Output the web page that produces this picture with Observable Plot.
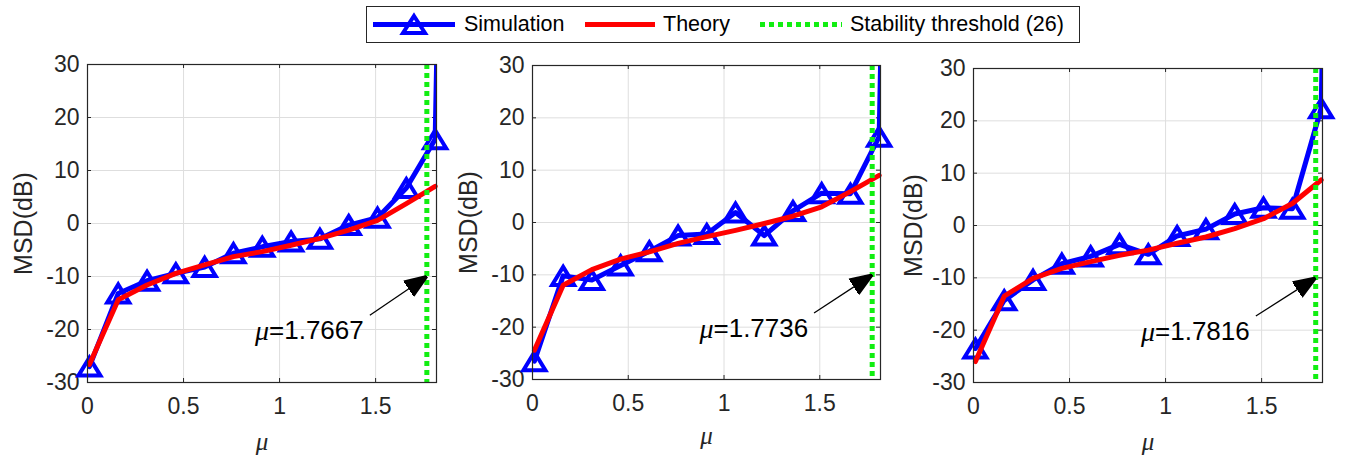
<!DOCTYPE html>
<html>
<head>
<meta charset="utf-8">
<script src="https://cdn.jsdelivr.net/npm/d3@7"></script>
<script src="https://cdn.jsdelivr.net/npm/@observablehq/plot@0.6"></script>
<style>
  html, body { margin: 0; padding: 0; background: #fff; }
  body { font-family: "Liberation Sans", Arial, Helvetica, sans-serif; }
  #root { position: relative; width: 1345px; height: 458px; overflow: hidden; background: #fff; }
  #legend { position: absolute; left: 366px; top: 6px; width: 714px; height: 37px; box-sizing: border-box;
            border: 1px solid #262626; background: #fff; }
  #legend .sw { position: absolute; top: 0; }
  #legend .lt { position: absolute; top: 0; height: 35px; line-height: 35px; font-size: 21.5px; color: #000; white-space: nowrap; }
  .panel { position: absolute; top: 50px; }
</style>
</head>
<body>
<div id="root">
  <div id="legend"></div>
</div>
<script>
// ---------- data ----------
const mu = [0.01, 0.16, 0.31, 0.46, 0.61, 0.76, 0.91, 1.06, 1.21, 1.36, 1.51, 1.66, 1.81];
const sim1    = [-27.0, -13.2, -10.8, -9.4, -8.2, -5.6, -4.4, -3.4, -2.9, -0.3, 1.1, 6.7, 15.9];
const theory1 = [-26.6, -14.4, -11.6, -9.4, -7.8, -6.25, -5.3, -4.1, -2.8, -1.25, 0.6, 3.75, 7.0];
const sim2    = [-26.5, -10.2, -11.0, -8.2, -5.5, -2.5, -2.2, 1.9, -2.5, 2.2, 5.6, 5.5, 16.4];
const theory2 = [-24.4, -12.0, -9.0, -7.0, -5.6, -4.0, -2.7, -1.5, -0.2, 1.2, 3.0, 5.9, 9.0];
const sim3    = [-23.5, -14.3, -10.4, -7.3, -5.9, -3.6, -5.5, -2.0, -0.7, 2.2, 3.4, 3.2, 22.4];
const theory3 = [-26.0, -13.5, -10.1, -8.2, -6.9, -5.7, -4.7, -3.4, -2.2, -0.6, 1.3, 4.2, 8.7];
// simulation diverges at the next step size (off the top of the axes)
const divergeMu = 1.96;
const divergeMSD = [300, 300, 300];
const thresholds = [1.7667, 1.7736, 1.7816];
const thresholdLabels = ["=1.7667", "=1.7736", "=1.7816"];
const xTicks = [0, 0.5, 1, 1.5];
const yTicks = [-30, -20, -10, 0, 10, 20, 30];
const xDomain = [0, 1.817];
const yDomain = [-30, 30];
// annotation anchors (data units)
const arrowTail = {mu: 1.47, msd: -17.3};
const arrowHeadMSD = -10;
const labelPos = {mu: 0.945, msd: -20.3};
const legendLabels = ["Simulation", "Theory", "Stability threshold (26)"];

// ---------- style ----------
const BLUE = "#0000ff", RED = "#ff0000", GREEN = "#11ee11", AX = "#262626", GRID = "#dedede";
const FONT = '"Liberation Sans", Arial, Helvetica, sans-serif';
const SERIF = '"Liberation Serif", "DejaVu Serif", serif';

const layout = [
  {left: 0,   width: 445, ml: 87, mr: 9,  mt: 14, mb: 76},
  {left: 445, width: 445, ml: 87, mr: 10, mt: 15, mb: 79},
  {left: 890, width: 455, ml: 83, mr: 23, mt: 18, mb: 76}
];
const H = 408;

// open triangle marker centred on its bounding box (MATLAB '^')
const triSymbol = {
  draw(ctx) {
    const w = 22, h = 18;
    ctx.moveTo(0, -h / 2);
    ctx.lineTo(w / 2, h / 2);
    ctx.lineTo(-w / 2, h / 2);
    ctx.closePath();
  }
};

function filledArrowHead() {
  const ns = "http://www.w3.org/2000/svg";
  const m = document.createElementNS(ns, "marker");
  m.setAttribute("viewBox", "-10 -5 10 10");
  m.setAttribute("markerWidth", 22);
  m.setAttribute("markerHeight", 22);
  m.setAttribute("markerUnits", "userSpaceOnUse");
  m.setAttribute("orient", "auto");
  m.setAttribute("refX", 0);
  m.setAttribute("refY", 0);
  const p = document.createElementNS(ns, "path");
  p.setAttribute("d", "M-10,-3.8L0,0L-10,3.8Z");
  p.setAttribute("fill", "#000");
  m.appendChild(p);
  return m;
}

const sims = [sim1, sim2, sim3];
const theories = [theory1, theory2, theory3];
const root = document.getElementById("root");

sims.forEach((sim, i) => {
  const g = layout[i];
  const pw = g.width - g.ml - g.mr;
  const ph = H - g.mt - g.mb;
  const simData = mu.map((m, j) => ({mu: m, msd: sim[j]}));
  const simLine = [...simData, {mu: divergeMu, msd: divergeMSD[i]}];
  const thData = mu.map((m, j) => ({mu: m, msd: theories[i][j]}));
  const arrow = [{x1: arrowTail.mu, y1: arrowTail.msd, x2: thresholds[i], y2: arrowHeadMSD}];

  const chart = Plot.plot({
    width: g.width, height: H,
    marginLeft: g.ml, marginRight: g.mr, marginTop: g.mt, marginBottom: g.mb,
    x: {domain: xDomain, label: null},
    y: {domain: yDomain, label: null},
    style: {fontFamily: FONT, fontSize: "23px", color: AX, background: "transparent", overflow: "visible"},
    marks: [
      Plot.gridX(xTicks, {stroke: GRID, strokeOpacity: 1, strokeWidth: 1}),
      Plot.gridY(yTicks, {stroke: GRID, strokeOpacity: 1, strokeWidth: 1}),
      Plot.axisX(xTicks, {tickSize: 0, tickPadding: 15, fontSize: 23, fill: AX, tickFormat: d => String(d)}),
      Plot.axisY(yTicks, {tickSize: 0, tickPadding: 8, fontSize: 23, fill: AX, tickFormat: d => String(d)}),
      // inward tick marks on all four sides
      Plot.tickY(yTicks, {y: d => d, insetRight: pw - 4, stroke: AX}),
      Plot.tickY(yTicks, {y: d => d, insetLeft: pw - 4, stroke: AX}),
      Plot.tickX(xTicks, {x: d => d, insetTop: ph - 4, stroke: AX}),
      Plot.tickX(xTicks, {x: d => d, insetBottom: ph - 4, stroke: AX}),
      // simulation
      Plot.line(simLine, {x: "mu", y: "msd", stroke: BLUE, strokeWidth: 5, clip: true}),
      Plot.dot(simData, {x: "mu", y: "msd", symbol: triSymbol, stroke: BLUE, strokeWidth: 4, fill: "none", r: 8}),
      // theory
      Plot.line(thData, {x: "mu", y: "msd", stroke: RED, strokeWidth: 5}),
      // stability threshold
      Plot.ruleX([thresholds[i]], {stroke: GREEN, strokeWidth: 5, strokeDasharray: "5,4"}),
      Plot.frame({stroke: AX, strokeWidth: 1.2}),
      // annotation
      Plot.link(arrow, {x1: "x1", y1: "y1", x2: "x2", y2: "y2", stroke: "#000", strokeWidth: 1.3, markerEnd: filledArrowHead}),
      Plot.text([labelPos], {x: "mu", y: "msd", text: () => "μ", textAnchor: "end", fontSize: 28, fontStyle: "italic",
                             fontFamily: SERIF, fill: "#000"}),
      Plot.text([labelPos], {x: "mu", y: "msd", text: () => thresholdLabels[i], textAnchor: "start", fontSize: 26, fill: "#000"}),
      // axis titles
      Plot.text([0], {frameAnchor: "bottom", lineAnchor: "middle", textAnchor: "middle", dy: 59 - (g.mb - 76), text: () => "μ",
                      fontSize: 25, fontStyle: "italic", fontFamily: SERIF, fill: AX}),
      Plot.text([0], {frameAnchor: "left", textAnchor: "middle", lineAnchor: "middle", dx: -(g.ml - 23), rotate: -90,
                      text: () => "MSD(dB)", fontSize: 25, fill: AX})
    ]
  });
  chart.classList.add("panel");
  chart.style.left = g.left + "px";
  root.appendChild(chart);
});

// ---------- legend ----------
const legend = document.getElementById("legend");
const ns = "http://www.w3.org/2000/svg";
function swatch(left, width, draw) {
  const s = document.createElementNS(ns, "svg");
  s.setAttribute("class", "sw");
  s.setAttribute("width", width);
  s.setAttribute("height", 35);
  s.style.left = left + "px";
  draw(s);
  legend.appendChild(s);
}
function el(parent, tag, attrs) {
  const e = document.createElementNS(ns, tag);
  for (const k in attrs) e.setAttribute(k, attrs[k]);
  parent.appendChild(e);
  return e;
}
swatch(6, 82, s => {
  el(s, "line", {x1: 0, x2: 82, y1: 17.5, y2: 17.5, stroke: BLUE, "stroke-width": 5});
  el(s, "path", {d: "M41,9L52,26L30,26Z", fill: "none", stroke: BLUE, "stroke-width": 4});
});
swatch(218, 70, s => {
  el(s, "line", {x1: 0, x2: 70, y1: 17.5, y2: 17.5, stroke: RED, "stroke-width": 5});
});
swatch(393, 82, s => {
  el(s, "line", {x1: 0, x2: 82, y1: 17.5, y2: 17.5, stroke: GREEN, "stroke-width": 5, "stroke-dasharray": "5,4"});
});
[[97, legendLabels[0]], [296, legendLabels[1]], [483, legendLabels[2]]].forEach(([x, t]) => {
  const d = document.createElement("div");
  d.className = "lt";
  d.style.left = x + "px";
  d.textContent = t;
  legend.appendChild(d);
});
</script>
</body>
</html>
